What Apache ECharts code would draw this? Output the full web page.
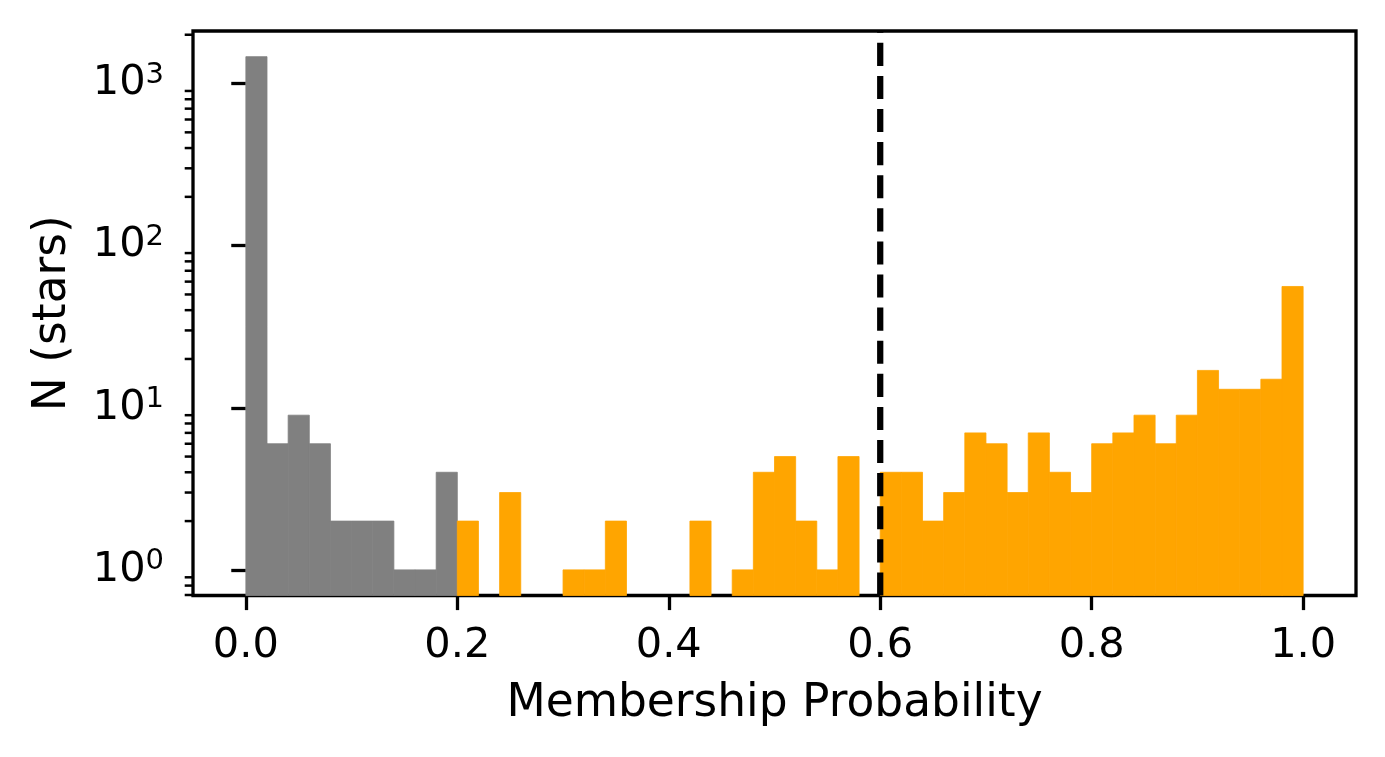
<!DOCTYPE html>
<html>
<head>
<meta charset="utf-8">
<script src="https://cdn.jsdelivr.net/npm/echarts@6/dist/echarts.min.js"></script>
<style>
html,body{margin:0;padding:0;background:#ffffff;}
#chart{width:1385px;height:757px;}
</style>
</head>
<body>
<div id="chart"></div>
<script>
// ---- data ----
const binEdges = [0.00,0.02,0.04,0.06,0.08,0.10,0.12,0.14,0.16,0.18,0.20,0.22,0.24,0.26,0.28,0.30,0.32,0.34,0.36,0.38,0.40,0.42,0.44,0.46,0.48,0.50,0.52,0.54,0.56,0.58,0.60,0.62,0.64,0.66,0.68,0.70,0.72,0.74,0.76,0.78,0.80,0.82,0.84,0.86,0.88,0.90,0.92,0.94,0.96,0.98,1.00];
// non-members (P < 0.2), one count per bin
const grayCounts = [1465,6,9,6,2,2,2,1,1,4,
  0,0,0,0,0,0,0,0,0,0,
  0,0,0,0,0,0,0,0,0,0,
  0,0,0,0,0,0,0,0,0,0,
  0,0,0,0,0,0,0,0,0,0];
// candidate members (P >= 0.2), one count per bin
const orangeCounts = [0,0,0,0,0,0,0,0,0,0,
  2,0,3,0,0,1,1,2,0,0,
  0,2,0,1,4,5,2,1,5,0,
  4,4,2,3,7,6,3,7,4,3,
  6,7,9,6,9,17,13,13,15,56];
const xTicks = [0.0,0.2,0.4,0.6,0.8,1.0];
const yTicks = [1,10,100,1000];
const yMinorTicks = [0.7,0.8,0.9,2,3,4,5,6,7,8,9,20,30,40,50,60,70,80,90,200,300,400,500,600,700,800,900,2000];
const cutValue = 0.6;
const xRange = [-0.05, 1.05];
const yRange = [0.695, 2109];

// ---- build ----
function barData(counts){
  const out = [];
  for (let i = 0; i < counts.length; i++) {
    if (counts[i] > 0) out.push([binEdges[i], binEdges[i+1], counts[i]]);
  }
  return out;
}
function barRenderer(color){
  return function(params, api){
    const x0 = api.value(0), x1 = api.value(1), v = api.value(2);
    const pTop = api.coord([x0, v]);
    const pBot = api.coord([x1, yRange[0]]);
    return {
      type: 'rect',
      shape: {x: pTop[0], y: pTop[1], width: pBot[0]-pTop[0], height: pBot[1]-pTop[1]},
      style: {fill: color, stroke: color, lineWidth: 0.8}
    };
  };
}
const FONT = 'DejaVu Sans';
const chart = echarts.init(document.getElementById('chart'), null, {renderer:'canvas'});
chart.setOption({
  backgroundColor: '#ffffff',
  animation: false,
  grid: {left: 193, right: 29, top: 31, bottom: 161.5, show: true, borderColor: '#000', borderWidth: 3.3, backgroundColor: 'transparent', containLabel: false},
  xAxis: {
    type: 'value', min: xRange[0], max: xRange[1],
    name: 'Membership Probability', nameLocation: 'middle', nameGap: 86,
    nameTextStyle: {fontFamily: FONT, fontSize: 45.5, color: '#000'},
    axisLine: {show: false},
    splitLine: {show: false},
    axisTick: {show: true, inside: false, length: 14.6, customValues: xTicks, lineStyle: {color: '#000', width: 3.3}},
    axisLabel: {show: true, margin: 30, customValues: xTicks, fontFamily: FONT, fontSize: 41.5, color: '#000',
      formatter: v => Number(v).toFixed(1)}
  },
  yAxis: {
    type: 'log', logBase: 10, min: yRange[0], max: yRange[1],
    name: 'N (stars)', nameLocation: 'middle', nameGap: 117,
    nameTextStyle: {fontFamily: FONT, fontSize: 45.5, color: '#000'},
    axisLine: {show: false},
    splitLine: {show: false},
    minorTick: {show: false},
    axisTick: {show: true, inside: false, length: 14.6, customValues: yTicks, lineStyle: {color: '#000', width: 3.3}},
    axisLabel: {show: true, margin: 29, customValues: yTicks, fontFamily: FONT, color: '#000',
      formatter: v => '{b|10}{s|' + Math.round(Math.log10(v)) + '}',
      rich: {
        b: {fontFamily: FONT, fontSize: 41.5, lineHeight: 45, color: '#000'},
        s: {fontFamily: FONT, fontSize: 29, lineHeight: 26, verticalAlign: 'top', color: '#000'}
      }
    }
  },
  series: [
    {type: 'custom', name: 'gray', data: barData(grayCounts), encode: {x: [0,1], y: 2},
      renderItem: barRenderer('#808080'), z: 2},
    {type: 'custom', name: 'orange', data: barData(orangeCounts), encode: {x: [0,1], y: 2},
      renderItem: barRenderer('#FFA500'), z: 2},
    {type: 'custom', name: 'minorTicks', clip: false, silent: true, z: 5,
      data: yMinorTicks.map(v => [xRange[0], v]), encode: {x: 0, y: 1},
      renderItem: function(params, api){
        const p = api.coord([api.value(0), api.value(1)]);
        return {type: 'line', shape: {x1: p[0]-8.3, y1: p[1], x2: p[0], y2: p[1]},
          style: {stroke: '#000', lineWidth: 2.5}};
      }},
    {type: 'line', name: 'cut', data: [[cutValue, yRange[0]], [cutValue, yRange[1]]],
      symbol: 'none', z: 4, silent: true,
      lineStyle: {color: '#000', width: 6.25, type: [23.1, 10], cap: 'butt'}}
  ]
});
</script>
</body>
</html>
